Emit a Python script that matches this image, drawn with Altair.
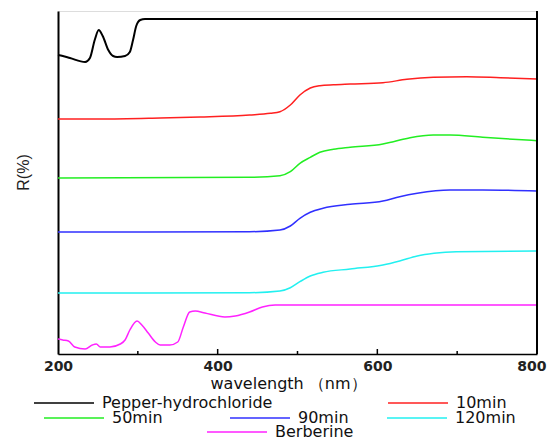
import altair as alt
import pandas as pd

# ---- data (R in arbitrary units, offset curves) ----
pepper_nm = [200, 206, 215, 234, 240, 246, 251, 256, 263, 269, 274, 284, 290, 294, 298, 303, 309, 800]
pepper_r = [299, 298, 296, 292, 296, 314, 324, 318, 304, 298, 297, 298, 302, 314, 328, 334, 335, 335]

m10_nm = [200, 253, 328, 378, 440, 466, 478, 491, 503, 516, 528, 545, 566, 607, 637, 670, 712, 754, 800]
m10_r = [235, 235, 236, 237, 239, 240.7, 242.3, 249, 259, 266, 268.3, 269.3, 270, 271.3, 274.7, 276.7, 277.3, 276.3, 275]

m50_nm = [200, 440, 478, 491, 503, 516, 528, 545, 566, 607, 620, 641, 670, 691, 732, 800]
m50_r = [176, 176.7, 178.3, 182.3, 190.7, 196.7, 201.7, 204.7, 206.7, 210, 212.3, 216.3, 219, 219, 216.7, 213.3]

m90_nm = [200, 440, 478, 491, 503, 516, 532, 566, 607, 628, 650, 691, 732, 800]
m90_r = [122, 122.3, 124, 128, 135.7, 141.7, 145.7, 149.7, 153, 157.3, 160.7, 164, 164, 163]

m120_nm = [200, 440, 478, 491, 503, 516, 532, 566, 607, 628, 650, 671, 699, 800]
m120_r = [61, 61.3, 63, 66.3, 72.3, 78, 81.7, 85, 89, 93, 98, 100.7, 102.3, 103]

berb_nm = [200, 206, 213, 221, 234, 243, 248, 253, 265, 278, 284, 290, 299, 305, 313, 322, 328,
           340, 350, 357, 365, 372, 384, 409, 422, 440, 456, 472, 497, 800]
berb_r = [15, 14, 13, 7, 5, 9, 10, 7, 7, 10, 14, 24, 33, 29, 21, 12, 9,
          9, 12, 27, 42, 43, 41, 37, 38, 42, 47, 49, 49, 49]

series_names = ["Pepper-hydrochloride", "10min", "50min", "90min", "120min", "Berberine"]
series_colors = ["#000000", "#ff2020", "#22ee22", "#3030ff", "#22f0f0", "#ff22ff"]
series_x = [pepper_nm, m10_nm, m50_nm, m90_nm, m120_nm, berb_nm]
series_y = [pepper_r, m10_r, m50_r, m90_r, m120_r, berb_r]
series_width = [2, 1.5, 1.5, 1.5, 1.5, 1.5]

x_tick_labels = [200, 400, 600, 800]
major_ticks = [400, 600]
minor_ticks = [300, 500, 700]

# legend positions (relative to plot area), style only
legend_pos = [(-25, 361), (329, 361), (-15, 376), (171, 376), (328, 376), (148, 390)]

W, H = 479, 343
xscale = alt.Scale(domain=[200, 800], nice=False)
yscale = alt.Scale(domain=[0, 343], nice=False)

layers = []
for i, name in enumerate(series_names):
    df = pd.DataFrame({"wl": series_x[i], "R": series_y[i], "series": name})
    lx, ly = legend_pos[i]
    enc_x = alt.X("wl:Q", scale=xscale,
                  axis=alt.Axis(values=x_tick_labels, tickSize=0, grid=False, labelFlush=False,
                                labelAlign={"condition": {"test": "datum.value == 800", "value": "right"},
                                            "value": "center"},
                                labelOffset={"condition": {"test": "datum.value == 800", "value": 9},
                                             "value": 0},
                                domainColor="#000", domainWidth=1.5,
                                labelFont="DejaVu Sans", labelFontSize=14, labelFontWeight="bold",
                                labelColor="#222", labelPadding=5,
                                title="wavelength （nm）", titleFont="DejaVu Sans",
                                titleFontSize=16, titleFontWeight="normal", titleColor="#111",
                                titleBaseline="alphabetic", titleY=34, titleX=230))
    enc_y = alt.Y("R:Q", scale=yscale,
                  axis=alt.Axis(labels=False, ticks=False, grid=False,
                                domainColor="#000", domainWidth=2,
                                title="R(%)", titleFont="Liberation Sans", titleFontSize=16,
                                titleFontWeight="normal", titleColor="#222",
                                titleX=-35, titleY=161, titleAngle=270,
                                titleAlign="center", titleBaseline="middle"))
    layer = alt.Chart(df).mark_line(strokeWidth=series_width[i], interpolate="monotone").encode(
        x=enc_x,
        y=enc_y,
        color=alt.Color("series:N",
                        scale=alt.Scale(domain=[name], range=[series_colors[i]]),
                        legend=alt.Legend(orient="none", legendX=lx, legendY=ly, title=None,
                                          symbolType="stroke", symbolSize=3600,
                                          symbolStrokeWidth=1.5, padding=0, labelLimit=0,
                                          labelFont="DejaVu Sans", labelFontSize=16,
                                          labelColor="#111", labelOffset=7)),
    )
    layers.append(layer)

tick_major = alt.Chart(pd.DataFrame({"t": major_ticks})).mark_rule(color="#000", strokeWidth=1.5).encode(
    x=alt.X("t:Q", scale=xscale), y=alt.value(H), y2=alt.value(H - 5))
tick_minor = alt.Chart(pd.DataFrame({"t": minor_ticks})).mark_rule(color="#000", strokeWidth=1.5).encode(
    x=alt.X("t:Q", scale=xscale), y=alt.value(H), y2=alt.value(H - 3))
right_frame = alt.Chart(pd.DataFrame({"t": [800]})).mark_rule(color="#000", strokeWidth=2).encode(
    x=alt.X("t:Q", scale=xscale), y=alt.value(0), y2=alt.value(H))

chart = alt.layer(*layers, tick_major, tick_minor, right_frame).resolve_scale(
    color="independent"
).properties(
    width=W, height=H,
    autosize=alt.AutoSizeParams(type="none"),
    padding={"left": 50, "top": 3, "right": 10, "bottom": 85},
).configure_view(stroke="#888", strokeWidth=1.5).configure(background="white")

chart.save("out.html", embed_options={"renderer": "svg", "actions": False})
